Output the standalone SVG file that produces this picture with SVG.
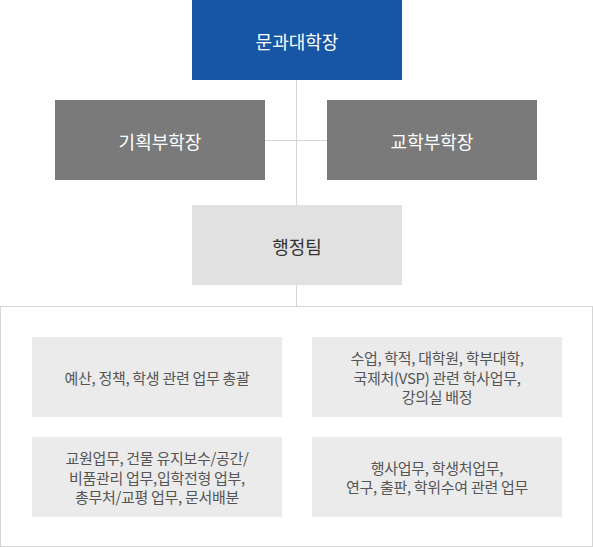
<svg xmlns="http://www.w3.org/2000/svg" width="593" height="547" viewBox="0 0 593 547">
<style>
text{font-family:"Noto Sans CJK KR","Noto Sans",sans-serif;text-anchor:middle;dominant-baseline:central}
.h{font-size:18px;fill:#fff}
.d{font-size:18px;fill:#333}
.t{font-size:15px;fill:#555;letter-spacing:-0.3px}
.c{stroke:#d6d6d6;stroke-width:1;fill:none}
.box{fill:#ebebeb}
</style>
<rect width="593" height="547" fill="#fff"/>
<g id="connectors">
<line class="c" x1="296.5" y1="80" x2="296.5" y2="306"/>
<line class="c" x1="265" y1="140.5" x2="327" y2="140.5"/>
</g>
<g id="dean">
<rect x="192" y="0" width="210" height="80" fill="#1656a5"/>
<text class="h" x="297" y="41">문과대학장</text>
</g>
<g id="planning">
<rect x="55" y="100" width="210" height="80" fill="#7a7a7a"/>
<text class="h" x="160" y="141">기획부학장</text>
</g>
<g id="academic">
<rect x="327" y="100" width="210" height="80" fill="#7a7a7a"/>
<text class="h" x="432" y="141">교학부학장</text>
</g>
<g id="admin">
<rect x="192" y="205" width="210" height="80" fill="#e1e1e1"/>
<text class="d" x="297" y="246">행정팀</text>
</g>
<g id="duties">
<rect x="0.5" y="306.5" width="592" height="240" fill="#fff" stroke="#d6d6d6"/>
<g id="duty1">
<rect class="box" x="32" y="337" width="250" height="80"/>
<text class="t" x="157" y="377">예산, 정책, 학생 관련 업무 총괄</text>
</g>
<g id="duty2">
<rect class="box" x="312" y="337" width="250" height="80"/>
<text class="t" x="437" y="357.5">수업, 학적, 대학원, 학부대학,</text>
<text class="t" x="437" y="377">국제처(VSP) 관련 학사업무,</text>
<text class="t" x="437" y="396.5">강의실 배정</text>
</g>
<g id="duty3">
<rect class="box" x="32" y="437" width="250" height="80"/>
<text class="t" x="157" y="457.5">교원업무, 건물 유지보수/공간/</text>
<text class="t" x="157" y="477">비품관리 업무,입학전형 업부,</text>
<text class="t" x="157" y="496.5">총무처/교평 업무, 문서배분</text>
</g>
<g id="duty4">
<rect class="box" x="312" y="437" width="250" height="80"/>
<text class="t" x="437" y="467">행사업무, 학생처업무,</text>
<text class="t" x="437" y="486.5">연구, 출판, 학위수여 관련 업무</text>
</g>
</g>
</svg>
